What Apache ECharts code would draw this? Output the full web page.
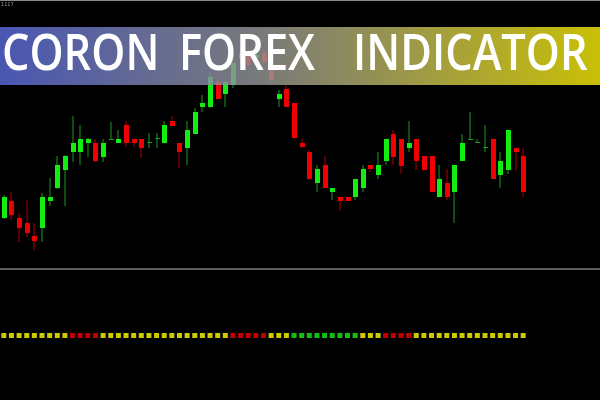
<!DOCTYPE html>
<html>
<head>
<meta charset="utf-8">
<script src="https://cdn.jsdelivr.net/npm/echarts@6/dist/echarts.min.js"></script>
<style>
  html, body { margin: 0; padding: 0; background: #000; }
  #chart { width: 600px; height: 400px; }
</style>
</head>
<body>
<div id="chart"></div>
<script>
// ---- Data ----
const titleText = 'CORON FOREX INDICATOR';
const clockText = '1117';

const openPrices  = [1.1364,1.1398,1.1364,1.1354,1.1328,1.1344,1.1398,1.1424,1.1460,1.1496,
                     1.1496,1.1514,1.1514,1.1486,1.1520,1.1514,1.1550,1.1522,1.1522,1.1514,
                     1.1522,1.1514,1.1558,1.1514,1.1504,1.1532,1.1586,1.1586,1.1636,1.1612,
                     1.1630,1.1684,1.1694,1.1684,1.1694,1.1666,1.1602,1.1622,1.1594,1.1514,
                     1.1496,1.1434,1.1470,1.1416,1.1406,1.1406,1.1406,1.1424,1.1470,1.1450,
                     1.1478,1.1532,1.1522,1.1504,1.1522,1.1488,1.1488,1.1406,1.1434,1.1416,
                     1.1478,1.1520,1.1514,1.1504,1.1522,1.1450,1.1460,1.1504,1.1488];
const closePrices = [1.1406,1.1370,1.1344,1.1334,1.1318,1.1406,1.1406,1.1470,1.1488,1.1514,
                     1.1522,1.1522,1.1478,1.1514,1.1522,1.1522,1.1514,1.1514,1.1504,1.1516,
                     1.1524,1.1550,1.1548,1.1496,1.1540,1.1576,1.1594,1.1646,1.1602,1.1636,
                     1.1674,1.1694,1.1670,1.1690,1.1676,1.1640,1.1612,1.1586,1.1524,1.1506,
                     1.1442,1.1462,1.1424,1.1424,1.1398,1.1398,1.1442,1.1462,1.1462,1.1470,
                     1.1522,1.1486,1.1468,1.1514,1.1478,1.1460,1.1416,1.1442,1.1406,1.1470,
                     1.1514,1.1522,1.1516,1.1506,1.1442,1.1478,1.1540,1.1496,1.1416];
const lowPrices   = [1.1362,1.1360,1.1316,1.1326,1.1300,1.1316,1.1388,1.1422,1.1388,1.1476,
                     1.1470,1.1486,1.1476,1.1476,1.1520,1.1514,1.1506,1.1506,1.1484,1.1504,
                     1.1504,1.1514,1.1548,1.1464,1.1470,1.1532,1.1576,1.1584,1.1602,1.1586,
                     1.1624,1.1676,1.1664,1.1680,1.1670,1.1636,1.1586,1.1586,1.1524,1.1504,
                     1.1440,1.1416,1.1424,1.1400,1.1380,1.1398,1.1400,1.1416,1.1456,1.1442,
                     1.1470,1.1470,1.1452,1.1496,1.1460,1.1460,1.1416,1.1406,1.1400,1.1354,
                     1.1478,1.1520,1.1514,1.1496,1.1442,1.1424,1.1452,1.1460,1.1406];
const highPrices  = [1.1410,1.1416,1.1374,1.1400,1.1354,1.1414,1.1444,1.1488,1.1490,1.1568,
                     1.1550,1.1524,1.1522,1.1522,1.1556,1.1540,1.1558,1.1522,1.1522,1.1534,
                     1.1534,1.1558,1.1568,1.1514,1.1558,1.1584,1.1610,1.1656,1.1646,1.1638,
                     1.1694,1.1704,1.1704,1.1708,1.1700,1.1684,1.1620,1.1628,1.1594,1.1522,
                     1.1500,1.1470,1.1488,1.1424,1.1406,1.1406,1.1442,1.1470,1.1470,1.1496,
                     1.1522,1.1540,1.1522,1.1558,1.1522,1.1488,1.1488,1.1470,1.1462,1.1470,
                     1.1532,1.1576,1.1522,1.1550,1.1522,1.1496,1.1540,1.1504,1.1504];
// indicator signal per bar: 1 = buy (green), -1 = sell (red), 0 = neutral (yellow)
const signals = [0,0,0,0,0,0,0,0,0,-1,-1,-1,-1,
                 0,0,0,0,0,0,0,0,0,0,0,0,0,0,0,0,0,
                 -1,-1,-1,-1,-1,
                 0,0,0,
                 1,1,1,1,1,1,1,1,1,
                 0,0,0,
                 -1,-1,-1,-1,
                 0,0,0,0,0,0,0,0,0,0,0,0,0,0,0];
const barLabels = openPrices.map((_, i) => 'Bar ' + (i + 1));
const priceMin = 1.1264, priceMax = 1.1800;

// ---- Build ----
const candleData = openPrices.map((o, i) => [i, o, closePrices[i], lowPrices[i], highPrices[i]]);
const signalData = signals.map((s, i) => [i, 'Coron', s]);
const signalColor = { '1': '#14f014', '-1': '#f00000', '0': '#ffff00' };

const chart = echarts.init(document.getElementById('chart'), null, { renderer: 'canvas' });

function renderCandle(params, api) {
  const i = api.value(0);
  const o = api.value(1), c = api.value(2), l = api.value(3), h = api.value(4);
  const up = c >= o;
  const pO = api.coord([i, o]), pC = api.coord([i, c]);
  const pL = api.coord([i, l]), pH = api.coord([i, h]);
  const bw = Math.round(api.size([1, 0])[0] * 0.66);
  const x = Math.round(pO[0]);
  const top = Math.round(Math.min(pO[1], pC[1]));
  const bot = Math.round(Math.max(pO[1], pC[1]));
  const bodyH = Math.max(1, bot - top);
  const bodyColor = up ? '#12ee12' : '#f00000';
  const wickColor = up ? '#1c9a1c' : '#b00000';
  return {
    type: 'group',
    children: [
      { type: 'rect', shape: { x: x - 0.5, y: Math.round(pH[1]), width: 1, height: Math.max(1, Math.round(pL[1]) - Math.round(pH[1])) },
        style: { fill: wickColor } },
      { type: 'rect', shape: { x: x - Math.floor(bw / 2), y: top, width: bw, height: bodyH },
        style: { fill: bodyH <= 1 ? wickColor : bodyColor } }
    ]
  };
}

// title words laid out across the banner
const titleWords = titleText.split(' ');
const wordX = [2, 179, 353];
const titleGraphics = titleWords.map((w, k) => ({
  type: 'text', z: 70, x: wordX[k], y: 55, scaleX: 0.85,
  style: { text: w, fill: '#ffffff', font: '600 51px "Open Sans"', textVerticalAlign: 'middle', textAlign: 'left' }
}));

const option = {
  backgroundColor: '#000000',
  animation: false,
  grid: [
    { left: 0, top: 0, width: 527, height: 268, show: false },
    { left: 0, top: 271, width: 527, height: 130, show: false }
  ],
  xAxis: [
    { type: 'category', gridIndex: 0, data: barLabels, show: false },
    { type: 'category', gridIndex: 1, data: barLabels, show: false }
  ],
  yAxis: [
    { type: 'value', gridIndex: 0, min: priceMin, max: priceMax, show: false, splitLine: { show: false } },
    { type: 'category', gridIndex: 1, data: ['Coron'], show: false }
  ],
  series: [
    {
      type: 'custom', xAxisIndex: 0, yAxisIndex: 0,
      renderItem: renderCandle,
      encode: { x: 0, y: [1, 2, 3, 4] },
      data: candleData, z: 2
    },
    {
      type: 'scatter', xAxisIndex: 1, yAxisIndex: 1,
      symbol: 'rect', symbolSize: 5,
      data: signalData,
      itemStyle: {
        color: p => signalColor[String(p.value[2])],
        borderWidth: 0
      },
      z: 3
    }
  ],
  graphic: [
    { type: 'rect', z: 50, shape: { x: 0, y: 0, width: 600, height: 1 }, style: { fill: '#8a8a8a' } },
    { type: 'text', z: 50, left: 1, top: 2, style: { text: clockText, fill: '#9a9a9a', font: '5px "DejaVu Sans"' } },
    { type: 'rect', z: 50, shape: { x: 0, y: 268, width: 600, height: 2 }, style: { fill: '#5e5e5e' } },
    {
      type: 'rect', z: 60, shape: { x: 0, y: 27, width: 600, height: 58 },
      style: {
        fill: new echarts.graphic.LinearGradient(0, 0, 1, 0, [
          { offset: 0, color: 'rgba(90,106,218,0.82)' },
          { offset: 0.45, color: 'rgba(150,150,146,0.82)' },
          { offset: 1, color: 'rgba(246,234,8,0.82)' }
        ])
      }
    }
  ].concat(titleGraphics)
};
chart.setOption(option);
</script>
</body>
</html>
